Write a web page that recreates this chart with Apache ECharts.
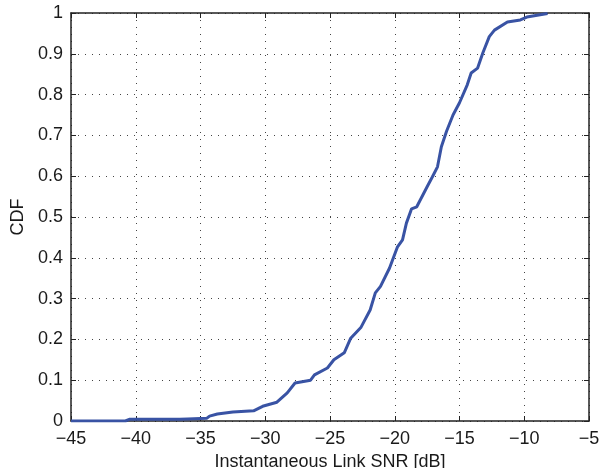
<!DOCTYPE html>
<html><head><meta charset="utf-8">
<script src="https://cdn.jsdelivr.net/npm/echarts@6/dist/echarts.min.js"></script>
<style>html,body{margin:0;padding:0;background:#fff}#c{width:602px;height:468px}</style>
</head><body><div id="c"></div>
<script>
const snr = [-45, -40.8, -40.5, -36.6, -36, -34.5, -34.3, -33.7, -32.5, -30.9, -30.2, -29.1, -28.3, -27.7, -26.5, -26.2, -25.2, -24.7, -23.9, -23.4, -22.6, -21.9, -21.5, -21.1, -20.4, -19.8, -19.4, -19.1, -18.7, -18.3, -17.5, -17.1, -16.7, -16.4, -16.0, -15.5, -15.0, -14.4, -14.1, -13.6, -13.2, -12.7, -12.3, -11.3, -10.3, -9.8, -8.2];
const cdf = [0, 0, 0.004, 0.004, 0.005, 0.007, 0.012, 0.017, 0.022, 0.025, 0.036, 0.046, 0.069, 0.093, 0.100, 0.113, 0.130, 0.150, 0.167, 0.203, 0.230, 0.272, 0.314, 0.330, 0.375, 0.426, 0.444, 0.485, 0.520, 0.525, 0.574, 0.598, 0.623, 0.672, 0.710, 0.750, 0.780, 0.824, 0.853, 0.865, 0.902, 0.942, 0.958, 0.978, 0.983, 0.990, 0.999];
const xTicks = [-45, -40, -35, -30, -25, -20, -15, -10, -5];
const yTicks = [0, 0.1, 0.2, 0.3, 0.4, 0.5, 0.6, 0.7, 0.8, 0.9, 1];
const xLabel = 'Instantaneous Link SNR [dB]';
const yLabel = 'CDF';

const chart = echarts.init(document.getElementById('c'));
const font = 'Liberation Sans, Arial, sans-serif';
const lbl = {color:'#1a1a1a', fontSize:18, fontFamily:font};
const grid = {left:71, right:13, top:13, bottom:47, containLabel:false, outerBoundsMode:'none'};
chart.setOption({
  animation:false,
  grid: grid,
  xAxis: [{
    type:'value', min:xTicks[0], max:xTicks[xTicks.length-1], interval:5,
    axisLine:{show:true, onZero:false, lineStyle:{color:'#222', width:1.5}},
    axisTick:{show:true, inside:true, length:5, lineStyle:{color:'#222'}},
    axisLabel:{...lbl, margin:9, formatter:v=>String(v).replace('-', '\u2212')},
    splitLine:{show:true, lineStyle:{color:'#444', type:[1,6], width:1}},
    name:xLabel, nameLocation:'middle', nameGap:29,
    nameTextStyle:{...lbl}
  },{
    type:'value', min:xTicks[0], max:xTicks[xTicks.length-1], interval:5, position:'top',
    axisLine:{show:true, onZero:false, lineStyle:{color:'#222', width:1.5}},
    axisTick:{show:true, inside:true, length:5, lineStyle:{color:'#222'}},
    axisLabel:{show:false}, splitLine:{show:false}
  }],
  yAxis: [{
    type:'value', min:yTicks[0], max:yTicks[yTicks.length-1], interval:0.1,
    axisLine:{show:true, onZero:false, lineStyle:{color:'#222', width:1.5}},
    axisTick:{show:true, inside:true, length:5, lineStyle:{color:'#222'}},
    axisLabel:{...lbl, margin:8, formatter:v=>String(Math.round(v*10)/10)},
    splitLine:{show:true, lineStyle:{color:'#444', type:[1,6], width:1}},
    name:yLabel, nameLocation:'middle', nameGap:35, nameRotate:90,
    nameTextStyle:{...lbl}
  },{
    type:'value', min:yTicks[0], max:yTicks[yTicks.length-1], interval:0.1, position:'right',
    axisLine:{show:true, onZero:false, lineStyle:{color:'#222', width:1.5}},
    axisTick:{show:true, inside:true, length:5, lineStyle:{color:'#222'}},
    axisLabel:{show:false}, splitLine:{show:false}
  }],
  series: [{
    type:'line', xAxisIndex:0, yAxisIndex:0,
    data: snr.map((x,i)=>[x, cdf[i]]),
    showSymbol:false, symbol:'none',
    lineStyle:{color:'#3953a4', width:3},
    itemStyle:{color:'#3953a4'}
  }]
});
</script></body></html>
